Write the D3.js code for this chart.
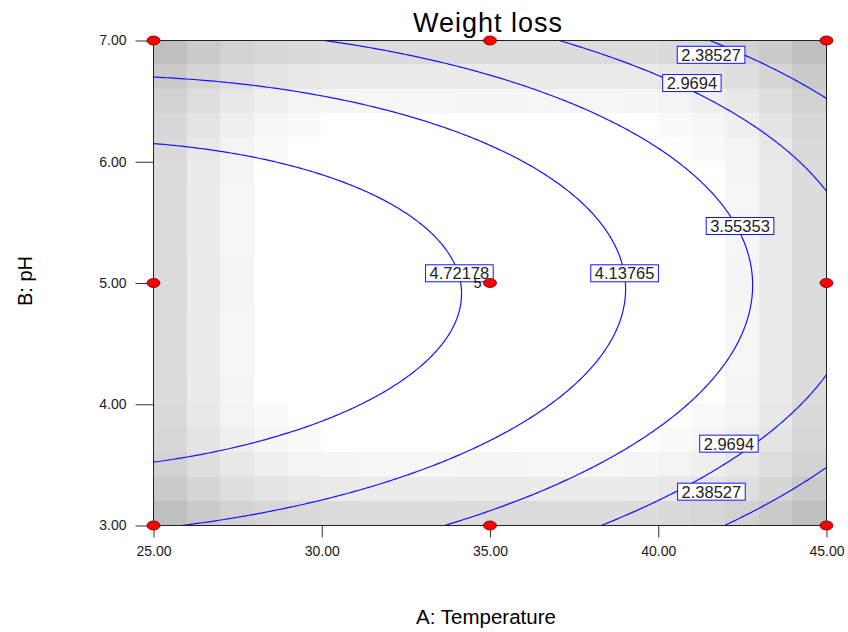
<!DOCTYPE html>
<html><head><meta charset="utf-8">
<script src="https://cdn.jsdelivr.net/npm/d3@7"></script>
<style>body{margin:0;background:#fff}text{font-family:"Liberation Sans",Arial,sans-serif}</style>
</head><body><svg id="c" width="848" height="632"></svg>
<script>
const title = "Weight loss";
const xTitle = "A: Temperature";
const yTitle = "B: pH";
const xTicks = [25, 30, 35, 40, 45];
const yTicks = [3, 4, 5, 6, 7];
// design points: Temperature, pH, replicate count
const designTemp = [25, 25, 25, 35, 35, 35, 45, 45, 45];
const designPH   = [3, 5, 7, 3, 5, 7, 3, 5, 7];
const designReps = [1, 1, 1, 1, 5, 1, 1, 1, 1];
// quadratic model in coded units: Intercept, A, B, AB, A^2, B^2
const modelCoef = [4.632, -1.065, -0.11, 0.11, -0.406, -1.34];
const contourLevels = [2.38527, 2.9694, 3.55353, 4.13765, 4.72178];
// contour label anchors (Temperature, pH, level index)
const labelTemp  = [41.57, 41.0, 42.43, 39.0, 34.09, 42.1, 41.58];
const labelPH    = [6.882, 6.649, 5.47, 5.08, 5.08, 3.675, 3.279];
const labelLevel = [0, 1, 2, 3, 4, 1, 0];

const svg = d3.select("#c");
const x = d3.scaleLinear().domain([25, 45]).range([153.5, 826.5]);
const y = d3.scaleLinear().domain([3, 7]).range([525.5, 40.5]);

const codeA = t => (t - 35) / 10, codeB = p => (p - 5) / 2;
const terms = (a, b) => [1, a, b, a * b, a * a, b * b];
const predict = (t, p) => { const f = terms(codeA(t), codeB(p)); return d3.sum(f, (v, i) => v * modelCoef[i]); };

// (X'X)^-1 of the design
const XtX = d3.range(6).map(() => d3.range(6).map(() => 0));
designTemp.forEach((t, k) => {
  const f = terms(codeA(t), codeB(designPH[k]));
  for (let i = 0; i < 6; i++) for (let j = 0; j < 6; j++) XtX[i][j] += designReps[k] * f[i] * f[j];
});
function invert(M) {
  const n = M.length, A = M.map((r, i) => r.concat(d3.range(n).map(j => i === j ? 1 : 0)));
  for (let c = 0; c < n; c++) {
    let p = c; for (let r = c + 1; r < n; r++) if (Math.abs(A[r][c]) > Math.abs(A[p][c])) p = r;
    [A[c], A[p]] = [A[p], A[c]];
    const d = A[c][c]; for (let j = 0; j < 2 * n; j++) A[c][j] /= d;
    for (let r = 0; r < n; r++) if (r !== c) { const m = A[r][c]; for (let j = 0; j < 2 * n; j++) A[r][j] -= m * A[c][j]; }
  }
  return A.map(r => r.slice(n));
}
const Minv = invert(XtX);
const stdErr = (t, p) => {
  const f = terms(codeA(t), codeB(p)); let h = 0;
  for (let i = 0; i < 6; i++) for (let j = 0; j < 6; j++) h += f[i] * Minv[i][j] * f[j];
  return Math.sqrt(h);
};

// background shading (standard error of design), 20x20 cells
const nc = 20, cells = [];
for (let i = 0; i < nc; i++) for (let j = 0; j < nc; j++) {
  const t0 = 25 + i * 20 / nc, t1 = 25 + (i + 1) * 20 / nc;
  const p0 = 3 + j * 4 / nc, p1 = 3 + (j + 1) * 4 / nc;
  const se = stdErr((t0 + t1) / 2, (p0 + p1) / 2);
  let g = 220 - (se - 0.657) * 178; g = Math.max(0, Math.min(255, g)); if (g > 251) g = 255;
  cells.push({ t0, t1, p0, p1, g: Math.round(g) });
}
svg.append("g").selectAll("rect").data(cells).join("rect")
  .attr("x", d => Math.round(x(d.t0) - 0.5)).attr("y", d => Math.round(y(d.p1) - 0.5))
  .attr("width", d => Math.round(x(d.t1) - 0.5) - Math.round(x(d.t0) - 0.5))
  .attr("height", d => Math.round(y(d.p0) - 0.5) - Math.round(y(d.p1) - 0.5))
  .attr("fill", d => `rgb(${d.g},${d.g},${d.g})`).attr("shape-rendering", "crispEdges");

// contours on an extended grid, clipped to plot
const n = 241, T0 = 23, P0 = 2.6, dT = 24 / (n - 1), dP = 4.8 / (n - 1);
const values = new Array(n * n);
for (let j = 0; j < n; j++) for (let i = 0; i < n; i++) values[j * n + i] = predict(T0 + i * dT, P0 + j * dP);
const contours = d3.contours().size([n, n]).thresholds(contourLevels)(values);
const proj = d3.geoTransform({ point: function (gx, gy) { this.stream.point(x(T0 + (gx - 0.5) * dT), y(P0 + (gy - 0.5) * dP)); } });
svg.append("clipPath").attr("id", "plotclip").append("rect")
  .attr("x", 153.5).attr("y", 40.5).attr("width", 673).attr("height", 485);
svg.append("g").attr("clip-path", "url(#plotclip)").selectAll("path").data(contours).join("path")
  .attr("d", d3.geoPath(proj)).attr("fill", "none").attr("stroke", "#1414ff").attr("stroke-width", 1.2);

// frame
svg.append("rect").attr("x", 153.5).attr("y", 40.5).attr("width", 673).attr("height", 485)
  .attr("fill", "none").attr("stroke", "#222").attr("stroke-width", 1);

// axes
const fmt = d3.format(".2f");
const gx = svg.append("g").attr("transform", "translate(0,525.5)")
  .call(d3.axisBottom(x).tickValues(xTicks).tickFormat(fmt).tickSize(12).tickPadding(9));
const gy = svg.append("g").attr("transform", "translate(153.5,0)")
  .call(d3.axisLeft(y).tickValues(yTicks).tickFormat(fmt).tickSize(18).tickPadding(9));
[gx, gy].forEach(g => {
  g.select(".domain").remove();
  g.selectAll(".tick line").attr("stroke", "#333");
  g.selectAll(".tick text").attr("fill", "#1a1a1a").style("font-size", "14px").style("font-family", '"Liberation Sans",Arial,sans-serif');
});

// contour labels
const lab = svg.append("g");
labelTemp.forEach((t, k) => {
  const cx = x(t), cy = y(labelPH[k]);
  const g = lab.append("g");
  const r = g.append("rect");
  const tx = g.append("text").attr("x", cx).attr("y", cy + 6).attr("text-anchor", "middle")
    .style("font-size", "16.5px").attr("fill", "#222").text(String(contourLevels[labelLevel[k]]));
  const w = tx.node().getComputedTextLength() + 8;
  r.attr("x", cx - w / 2).attr("y", cy - 8.5).attr("width", w).attr("height", 17)
    .attr("fill", "#fff").attr("stroke", "#1414ff").attr("stroke-width", 1);
});

// design points
const pts = designTemp.map((t, k) => ({ t, p: designPH[k], r: designReps[k] }));
svg.append("g").selectAll("ellipse").data(pts).join("ellipse")
  .attr("cx", d => x(d.t)).attr("cy", d => y(d.p)).attr("rx", 6.5).attr("ry", 4.5)
  .attr("fill", "#ff0000").attr("stroke", "#5a0000").attr("stroke-width", 0.8);
svg.append("g").selectAll("text").data(pts.filter(d => d.r > 1)).join("text")
  .attr("x", d => x(d.t) - 12.5).attr("y", d => y(d.p) + 5).attr("text-anchor", "middle")
  .style("font-size", "14.5px").attr("fill", "#111").text(d => d.r);

// titles
svg.append("text").attr("x", 488).attr("y", 31.5).attr("text-anchor", "middle")
  .style("font-size", "27px").style("letter-spacing", "1px").attr("fill", "#000").text(title);
svg.append("text").attr("x", 486).attr("y", 624).attr("text-anchor", "middle")
  .style("font-size", "20.5px").attr("fill", "#000").text(xTitle);
svg.append("text").attr("transform", "translate(32,281) rotate(-90)").attr("text-anchor", "middle")
  .style("font-size", "20px").attr("fill", "#000").text(yTitle);
</script></body></html>
